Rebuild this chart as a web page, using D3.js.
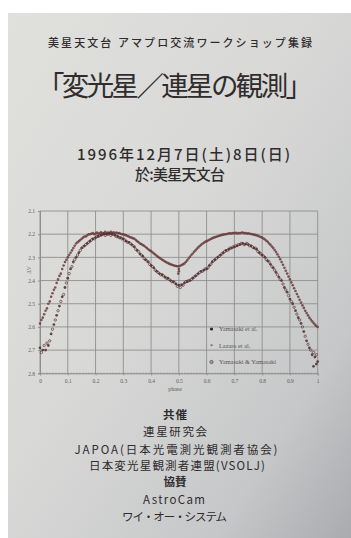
<!DOCTYPE html>
<html><head><meta charset="utf-8">
<script src="https://cdn.jsdelivr.net/npm/d3@7/dist/d3.min.js"></script>
<style>
html,body{margin:0;padding:0;background:#fff;}
svg{display:block;}
</style></head>
<body>
<svg id="c" width="351" height="538"></svg>
<script>
// ---- data ----
const xTicks = [0, 0.1, 0.2, 0.3, 0.4, 0.5, 0.6, 0.7, 0.8, 0.9, 1];
const xTickLabels = ["0","0.1","0.2","0.3","0.4","0.5","0.6","0.7","0.8","0.9","1"];
const yTicks = [2.1, 2.2, 2.3, 2.4, 2.5, 2.6, 2.7, 2.8];
const yTickLabels = ["2.1","2.2","2.3","2.4","2.5","2.6","2.7","2.8"];
const seriesNames = ["Yamasaki et al.", "Lazaro et al.", "Yamasaki & Yamasaki"];

const yamasakiEtAl = [[0.00,2.69],[0.01,2.70],[0.02,2.70],[0.03,2.68],[0.04,2.63],[0.05,2.59],[0.06,2.55],[0.07,2.51],[0.08,2.47],[0.09,2.43],[0.10,2.39],[0.11,2.35],[0.12,2.32],[0.13,2.30],[0.14,2.28],[0.15,2.26],[0.16,2.25],[0.17,2.24],[0.18,2.23],[0.19,2.22],[0.20,2.215],[0.21,2.21],[0.22,2.205],[0.23,2.20],[0.24,2.20],[0.25,2.198],[0.26,2.20],[0.27,2.205],[0.28,2.21],[0.29,2.215],[0.30,2.22],[0.31,2.23],[0.32,2.235],[0.33,2.245],[0.34,2.255],[0.35,2.27],[0.36,2.285],[0.37,2.295],[0.38,2.31],[0.39,2.32],[0.40,2.335],[0.41,2.345],[0.42,2.36],[0.43,2.37],[0.44,2.375],[0.45,2.385],[0.46,2.39],[0.47,2.40],[0.48,2.405],[0.49,2.415],[0.50,2.42],[0.51,2.418],[0.52,2.41],[0.53,2.405],[0.54,2.40],[0.55,2.39],[0.56,2.38],[0.57,2.37],[0.58,2.36],[0.59,2.355],[0.60,2.35],[0.61,2.335],[0.62,2.32],[0.63,2.31],[0.64,2.30],[0.65,2.29],[0.66,2.28],[0.67,2.27],[0.68,2.265],[0.69,2.26],[0.70,2.255],[0.71,2.25],[0.72,2.245],[0.73,2.24],[0.74,2.243],[0.75,2.245],[0.76,2.25],[0.77,2.26],[0.78,2.265],[0.79,2.28],[0.80,2.29],[0.81,2.30],[0.82,2.315],[0.83,2.33],[0.84,2.345],[0.85,2.365],[0.86,2.385],[0.87,2.40],[0.88,2.43],[0.89,2.45],[0.90,2.48],[0.91,2.50],[0.92,2.53],[0.93,2.56],[0.94,2.585],[0.95,2.62],[0.96,2.66],[0.97,2.69],[0.98,2.72],[0.99,2.73],[1.00,2.75],[0.985,2.77],[0.995,2.76]];

const lazaroEtAl = [[0.000,2.585],[0.005,2.57],[0.010,2.56],[0.015,2.545],[0.020,2.53],[0.025,2.52],[0.030,2.50],[0.035,2.49],[0.040,2.47],[0.045,2.455],[0.050,2.44],[0.055,2.43],[0.060,2.41],[0.065,2.395],[0.070,2.38],[0.075,2.37],[0.080,2.35],[0.085,2.335],[0.090,2.32],[0.095,2.31],[0.100,2.30],[0.105,2.29],[0.110,2.28],[0.115,2.27],[0.120,2.26],[0.125,2.25],[0.130,2.24],[0.135,2.235],[0.140,2.23],[0.145,2.225],[0.150,2.22],[0.155,2.215],[0.160,2.21],[0.165,2.21],[0.170,2.205],[0.175,2.20],[0.180,2.20],[0.185,2.198],[0.190,2.195],[0.195,2.20],[0.200,2.197],[0.205,2.193],[0.210,2.198],[0.215,2.195],[0.220,2.192],[0.225,2.197],[0.230,2.195],[0.235,2.19],[0.240,2.196],[0.245,2.193],[0.250,2.195],[0.255,2.19],[0.260,2.195],[0.265,2.192],[0.270,2.197],[0.275,2.193],[0.280,2.196],[0.285,2.195],[0.290,2.198],[0.295,2.20],[0.300,2.20],[0.305,2.203],[0.310,2.205],[0.315,2.208],[0.320,2.21],[0.325,2.213],[0.330,2.215],[0.335,2.218],[0.340,2.22],[0.345,2.225],[0.350,2.23],[0.355,2.235],[0.360,2.24],[0.365,2.243],[0.370,2.247],[0.375,2.25],[0.380,2.255],[0.385,2.26],[0.390,2.265],[0.395,2.27],[0.400,2.273],[0.405,2.278],[0.410,2.283],[0.415,2.288],[0.420,2.293],[0.425,2.298],[0.430,2.302],[0.435,2.306],[0.440,2.31],[0.445,2.314],[0.450,2.318],[0.455,2.321],[0.460,2.324],[0.465,2.327],[0.470,2.33],[0.475,2.332],[0.480,2.334],[0.485,2.336],[0.490,2.337],[0.495,2.338],[0.500,2.338],[0.505,2.336],[0.510,2.333],[0.515,2.33],[0.520,2.326],[0.525,2.32],[0.530,2.313],[0.535,2.305],[0.540,2.297],[0.545,2.29],[0.550,2.283],[0.555,2.276],[0.560,2.27],[0.565,2.263],[0.570,2.257],[0.575,2.251],[0.580,2.246],[0.585,2.241],[0.590,2.237],[0.595,2.233],[0.600,2.23],[0.605,2.227],[0.610,2.224],[0.615,2.221],[0.620,2.218],[0.625,2.215],[0.630,2.213],[0.635,2.211],[0.640,2.209],[0.645,2.207],[0.650,2.205],[0.655,2.203],[0.660,2.202],[0.665,2.20],[0.670,2.20],[0.675,2.198],[0.680,2.197],[0.685,2.196],[0.690,2.197],[0.695,2.195],[0.700,2.196],[0.705,2.194],[0.710,2.197],[0.715,2.195],[0.720,2.196],[0.725,2.194],[0.730,2.193],[0.735,2.196],[0.740,2.195],[0.745,2.197],[0.750,2.196],[0.755,2.198],[0.760,2.199],[0.765,2.20],[0.770,2.202],[0.775,2.203],[0.780,2.205],[0.785,2.207],[0.790,2.21],[0.795,2.212],[0.800,2.215],[0.805,2.219],[0.810,2.223],[0.815,2.228],[0.820,2.233],[0.825,2.24],[0.830,2.246],[0.835,2.253],[0.840,2.26],[0.845,2.268],[0.850,2.277],[0.855,2.287],[0.860,2.297],[0.865,2.308],[0.870,2.32],[0.875,2.332],[0.880,2.345],[0.885,2.358],[0.890,2.37],[0.895,2.383],[0.900,2.395],[0.905,2.408],[0.910,2.42],[0.915,2.433],[0.920,2.445],[0.925,2.458],[0.930,2.47],[0.935,2.483],[0.940,2.495],[0.945,2.507],[0.950,2.518],[0.955,2.53],[0.960,2.54],[0.965,2.55],[0.970,2.56],[0.975,2.568],[0.980,2.576],[0.985,2.583],[0.990,2.59],[0.995,2.596],[1.000,2.60],[0.500,2.35],[0.500,2.36],[0.498,2.37]];

const yamasakiYamasaki = [[0.005,2.71],[0.015,2.68],[0.025,2.67],[0.035,2.66],[0.045,2.61],[0.055,2.57],[0.065,2.53],[0.075,2.49],[0.085,2.46],[0.095,2.41],[0.105,2.37],[0.115,2.34],[0.125,2.31],[0.135,2.29],[0.145,2.27],[0.155,2.255],[0.165,2.245],[0.175,2.235],[0.185,2.225],[0.195,2.22],[0.205,2.21],[0.215,2.205],[0.225,2.20],[0.235,2.205],[0.245,2.20],[0.255,2.205],[0.265,2.20],[0.275,2.21],[0.285,2.215],[0.295,2.22],[0.305,2.225],[0.315,2.235],[0.325,2.24],[0.335,2.25],[0.345,2.265],[0.355,2.275],[0.365,2.29],[0.375,2.305],[0.385,2.315],[0.395,2.33],[0.405,2.34],[0.415,2.355],[0.425,2.365],[0.435,2.375],[0.445,2.38],[0.455,2.39],[0.465,2.395],[0.475,2.405],[0.485,2.41],[0.495,2.425],[0.505,2.43],[0.515,2.42],[0.525,2.405],[0.535,2.40],[0.545,2.395],[0.555,2.385],[0.565,2.375],[0.575,2.365],[0.585,2.36],[0.595,2.35],[0.605,2.345],[0.615,2.33],[0.625,2.315],[0.635,2.305],[0.645,2.295],[0.655,2.285],[0.665,2.275],[0.675,2.27],[0.685,2.26],[0.695,2.255],[0.705,2.25],[0.715,2.245],[0.725,2.24],[0.735,2.245],[0.745,2.24],[0.755,2.25],[0.765,2.255],[0.775,2.26],[0.785,2.275],[0.795,2.285],[0.805,2.295],[0.815,2.31],[0.825,2.32],[0.835,2.34],[0.845,2.355],[0.855,2.375],[0.865,2.395],[0.875,2.415],[0.885,2.44],[0.895,2.465],[0.905,2.49],[0.915,2.515],[0.925,2.545],[0.935,2.57],[0.945,2.60],[0.955,2.64],[0.965,2.675],[0.975,2.70],[0.985,2.71],[0.995,2.72]];

const headerLine = "美星天文台 アマプロ交流ワークショップ集録";
const titleLine = "「変光星／連星の観測」";
const dateLine = "1996年12月7日(土)8日(日)";
const placeLine = "於:美星天文台";
const creditLines = ["共催","連星研究会","JAPOA(日本光電測光観測者協会)","日本変光星観測者連盟(VSOLJ)","協賛","AstroCam","ワイ・オー・システム"];
const creditBold = [true,false,false,false,true,false,false];

// ---- layout (not data) ----
const creditY = [415, 432, 450, 466, 482, 500, 517];
const creditX = [175, 175, 176, 177, 175, 174, 174.5];
const creditW = [24, 64, 203, 176, 23, 62, 105];

// ---- drawing ----
const svg = d3.select("#c");
const defs = svg.append("defs");
const grad = defs.append("linearGradient").attr("id","paper")
  .attr("x1","0").attr("y1","0").attr("x2","1").attr("y2","1");
grad.append("stop").attr("offset","0").attr("stop-color","#e0e1dd");
grad.append("stop").attr("offset","0.45").attr("stop-color","#d8d9d7");
grad.append("stop").attr("offset","0.8").attr("stop-color","#c6c7c8");
grad.append("stop").attr("offset","1").attr("stop-color","#aaabaf");

svg.append("rect").attr("x",0).attr("y",0).attr("width",351).attr("height",538).attr("fill","#ffffff");
svg.append("rect").attr("x",8).attr("y",13).attr("width",343).attr("height",525).attr("fill","url(#paper)");

const jp = "'Noto Sans CJK JP', 'Noto Sans', sans-serif";
const ink = "#302c2e";

function centered(t, cx, yb, size, weight, width){
  return svg.append("text").attr("x",cx - width/2).attr("y",yb)
    .attr("textLength",width).attr("lengthAdjust","spacing")
    .attr("font-family",jp).attr("font-size",size).attr("font-weight",weight)
    .attr("fill",ink).text(t);
}
centered(headerLine, 180, 47, 11, 500, 264);
centered(titleLine, 175, 96, 27.5, 400, 276);
centered(dateLine, 183.5, 160, 15, 500, 213);
centered(placeLine, 180, 179.5, 15, 500, 90);

// chart
const x = d3.scaleLinear().domain([0,1]).range([40,317.7]);
const y = d3.scaleLinear().domain([2.1,2.8]).range([211,373.3]);
const gridCol = "#8e8e8e";
const g = svg.append("g");

g.append("g").selectAll("line").data(xTicks).join("line")
  .attr("x1",d=>x(d)).attr("x2",d=>x(d)).attr("y1",y(2.1)).attr("y2",y(2.8))
  .attr("stroke",gridCol).attr("stroke-width",0.9);
g.append("g").selectAll("line").data(yTicks).join("line")
  .attr("x1",x(0)).attr("x2",x(1)).attr("y1",d=>y(d)).attr("y2",d=>y(d))
  .attr("stroke",gridCol).attr("stroke-width",0.9)
  .attr("stroke-dasharray",d=>d===2.8?"2,1":null);

const serif = "'Liberation Serif', 'DejaVu Serif', serif";
const xAxis = d3.axisBottom(x).tickValues(xTicks).tickFormat((d,i)=>xTickLabels[i]).tickSize(2);
const xa = g.append("g").attr("transform",`translate(0,${y(2.8)})`).call(xAxis);
const yAxis = d3.axisLeft(y).tickValues(yTicks).tickFormat((d,i)=>yTickLabels[i]).tickSize(2);
const ya = g.append("g").attr("transform",`translate(${x(0)},0)`).call(yAxis);
[xa,ya].forEach(a=>{
  a.select(".domain").attr("stroke",gridCol);
  a.selectAll(".tick line").attr("stroke",gridCol);
  a.selectAll("text").attr("font-family",serif).attr("font-size",5.5).attr("fill","#5e5e5e");
});
xa.selectAll("text").attr("dy","0.9em");

svg.append("text").attr("x",175).attr("y",391).attr("text-anchor","middle")
  .attr("font-family",serif).attr("font-size",6).attr("fill","#5e5e5e").text("phase");
svg.append("text").attr("transform","translate(31,270) rotate(-90)").attr("text-anchor","middle")
  .attr("font-family",serif).attr("font-size",5.5).attr("fill","#5e5e5e").text("ΔV");

const dotCol = "#6a3c3d";
const pts = svg.append("g");
pts.append("g").selectAll("circle").data(lazaroEtAl).join("circle")
  .attr("cx",d=>x(d[0])).attr("cy",d=>y(d[1])).attr("r",1.3)
  .attr("fill",dotCol).attr("fill-opacity",0.85);
pts.append("g").selectAll("circle").data(yamasakiYamasaki).join("circle")
  .attr("cx",d=>x(d[0])).attr("cy",d=>y(d[1])).attr("r",1.2)
  .attr("fill","none").attr("stroke",dotCol).attr("stroke-width",0.9).attr("stroke-opacity",0.85);
pts.append("g").selectAll("circle").data(yamasakiEtAl).join("circle")
  .attr("cx",d=>x(d[0])).attr("cy",d=>y(d[1])).attr("r",1.4)
  .attr("fill","#4a2e30").attr("fill-opacity",0.85);

// legend
const legY = [329, 346, 362];
const leg = svg.append("g");
seriesNames.forEach((n,i)=>{
  const gy = legY[i];
  if(i===0) leg.append("circle").attr("cx",211.5).attr("cy",gy).attr("r",1.6).attr("fill","#2a2224");
  if(i===1) leg.append("text").attr("x",211.5).attr("y",gy+2).attr("text-anchor","middle")
     .attr("font-size",6).attr("font-family",serif).attr("fill","#3a3031").text("*");
  if(i===2) { leg.append("circle").attr("cx",211.5).attr("cy",gy).attr("r",1.6).attr("fill","none").attr("stroke","#3a3031").attr("stroke-width",0.7);
              leg.append("circle").attr("cx",211.5).attr("cy",gy).attr("r",0.5).attr("fill","#3a3031"); }
  leg.append("text").attr("x",219).attr("y",gy+2).attr("font-family",serif).attr("font-size",6.3)
    .attr("fill","#5a5455").text(n);
});

// credits
creditLines.forEach((t,i)=>{
  svg.append("text").attr("x",creditX[i]-creditW[i]/2).attr("y",creditY[i]).attr("dy","0.36em")
    .attr("textLength",creditW[i]).attr("lengthAdjust","spacing")
    .attr("font-family",jp).attr("font-size",11.5).attr("font-weight",creditBold[i]?700:400)
    .attr("fill",ink).text(t);
});
</script>
</body></html>
